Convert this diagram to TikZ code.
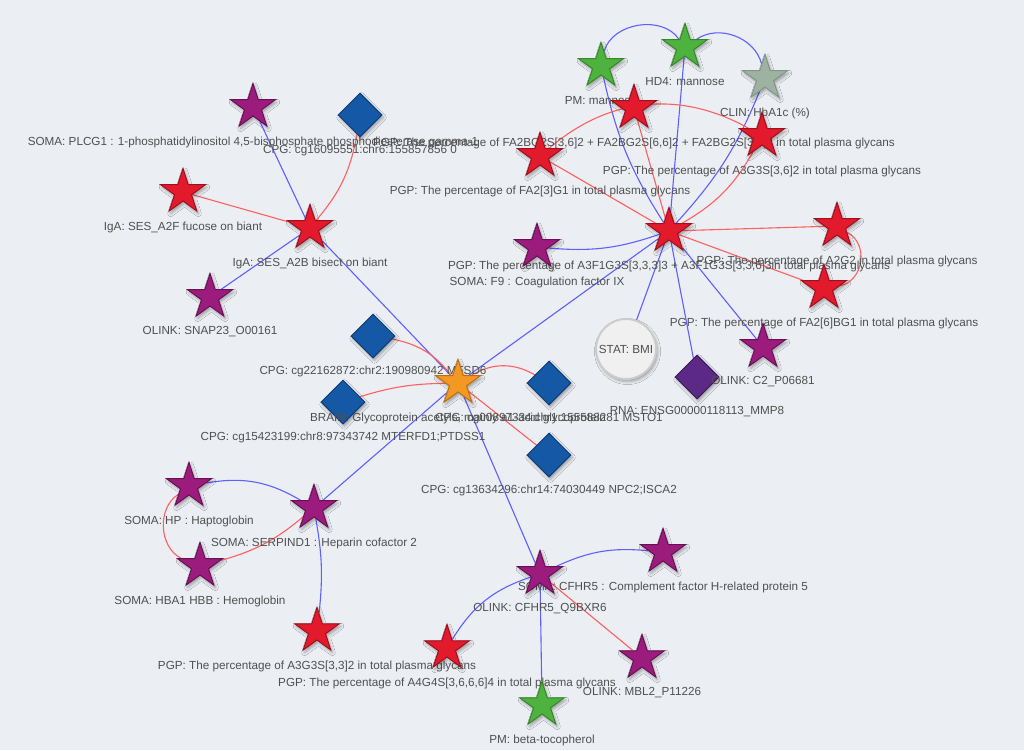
\documentclass[tikz,border=0pt]{standalone}
\usepackage{fontspec}
\setmainfont{Liberation Sans}
\usetikzlibrary{shapes.geometric,shadows.blur,backgrounds}

\definecolor{bgcol}{RGB}{235,238,243}
\definecolor{txtgray}{RGB}{80,80,80}
\definecolor{edgeblue}{RGB}{95,95,255}
\definecolor{edgered}{RGB}{255,95,95}
\definecolor{pgpred}{RGB}{227,26,43}
\definecolor{pgpredline}{RGB}{160,15,30}
\definecolor{somapurple}{RGB}{156,28,126}
\definecolor{somapurpleline}{RGB}{105,16,85}
\definecolor{pmgreen}{RGB}{78,178,62}
\definecolor{pmgreenline}{RGB}{55,135,42}
\definecolor{clingray}{RGB}{157,178,161}
\definecolor{clingrayline}{RGB}{130,150,135}
\definecolor{brainorange}{RGB}{243,152,34}
\definecolor{brainorangeline}{RGB}{190,110,15}
\definecolor{cpgblue}{RGB}{21,88,165}
\definecolor{cpgblueline}{RGB}{14,62,120}
\definecolor{rnapurple}{RGB}{92,42,134}
\definecolor{rnapurpleline}{RGB}{60,25,92}

\tikzset{
  shadowed/.style = {blur shadow={shadow xshift=1.5pt, shadow yshift=-2.5pt, shadow blur radius=3pt, shadow opacity=35}},
  starnode/.style = {star, star points=5, star point ratio=2.618, minimum size=47pt, inner sep=0pt, line width=1pt, shadowed},
  pgpstar/.style = {starnode, fill=pgpred, draw=pgpredline},
  somastar/.style = {starnode, fill=somapurple, draw=somapurpleline},
  pmstar/.style = {starnode, fill=pmgreen, draw=pmgreenline},
  clinstar/.style = {starnode, fill=clingray, draw=clingrayline},
  brainstar/.style = {starnode, fill=brainorange, draw=brainorangeline},
  cpgdia/.style = {diamond, minimum width=44pt, minimum height=44pt, inner sep=0pt, line width=1pt, fill=cpgblue, draw=cpgblueline, shadowed},
  rnadia/.style = {cpgdia, fill=rnapurple, draw=rnapurpleline},
  statcirc/.style = {circle, minimum size=60pt, inner sep=0pt, fill=black!6, draw=black!20, line width=2pt, shadowed, text=txtgray, font=\fontsize{11.7}{14}\selectfont},
  lbl/.style = {anchor=base, yshift=-35pt, inner sep=0pt, text=txtgray, font=\fontsize{11.7}{14}\selectfont},
  bl/.style = {draw=edgeblue, line width=1.1pt},
  rd/.style = {draw=edgered, line width=1.1pt}
}

\begin{document}
\begin{tikzpicture}[x=1pt, y=-1pt]
  \useasboundingbox (0,0) rectangle (1024,750);

  % top right cluster
  \node[pmstar, label={[lbl]center:{PM: mannose}}] (pmman) at (601,66) {};
  \node[pmstar, label={[lbl]center:{HD4: mannose}}] (hdman) at (685,47) {};
  \node[clinstar, label={[lbl]center:{CLIN: HbA1c (\%)}}] (hba) at (765,78) {};
  \node[pgpstar, label={[lbl]center:{PGP: The percentage of FA2BG2S[3,6]2 + FA2BG2S[6,6]2 + FA2BG2S[3,3]2 in total plasma glycans}}] (fa2bg2s) at (634,108) {};
  \node[pgpstar, label={[lbl]center:{PGP: The percentage of A3G3S[3,6]2 in total plasma glycans}}] (a3g3s36) at (762,136) {};
  \node[pgpstar, label={[lbl]center:{PGP: The percentage of FA2[3]G1 in total plasma glycans}}] (fa23g1) at (540,156) {};
  \node[pgpstar, label={[lbl]center:{PGP: The percentage of A3F1G3S[3,3,3]3 + A3F1G3S[3,3,6]3in total plasma glycans}}] (a3f1) at (669,231) {};
  \node[somastar, label={[lbl]center:{SOMA: F9 : Coagulation factor IX}}] (f9) at (537,247) {};
  \node[pgpstar, label={[lbl]center:{PGP: The percentage of A2G2 in total plasma glycans}}] (a2g2) at (837,226) {};
  \node[pgpstar, label={[lbl]center:{PGP: The percentage of FA2[6]BG1 in total plasma glycans}}] (fa26bg1) at (824,288) {};
  \node[statcirc] (bmi) at (626,349) {STAT: BMI};
  \node[rnadia, label={[lbl]center:{RNA: ENSG00000118113\_MMP8}}] (mmp8) at (697,377) {};
  \node[somastar, label={[lbl]center:{OLINK: C2\_P06681}}] (c2) at (763,347) {};

  % top left cluster
  \node[somastar, label={[lbl]center:{SOMA: PLCG1 : 1-phosphatidylinositol 4,5-bisphosphate phosphodiesterase gamma-1}}] (plcg1) at (253,107) {};
  \node[cpgdia, label={[lbl]center:{CPG: cg16095551:chr6:155857856 0}}] (cg1609) at (360,115) {};
  \node[pgpstar, label={[lbl]center:{IgA: SES\_A2F fucose on biant}}] (a2f) at (183,192) {};
  \node[pgpstar, label={[lbl]center:{IgA: SES\_A2B bisect on biant}}] (a2b) at (310,228) {};
  \node[somastar, label={[lbl]center:{OLINK: SNAP23\_O00161}}] (snap23) at (210,297) {};

  % middle cluster
  \node[cpgdia, label={[lbl]center:{CPG: cg22162872:chr2:190980942 MFSD6}}] (cg2216) at (373,336) {};
  \node[cpgdia, label={[lbl]center:{CPG: cg00897334:chr1:155588281 MSTO1}}] (msto1) at (549,383) {};
  \node[cpgdia, label={[lbl]center:{CPG: cg15423199:chr8:97343742 MTERFD1;PTDSS1}}] (cg1542) at (343,402) {};
  \node[cpgdia, label={[lbl]center:{CPG: cg13634296:chr14:74030449 NPC2;ISCA2}}] (cg1363) at (549,455) {};
  \node[brainstar, label={[lbl]center:{BRAIN: Glycoprotein acetyls, mainly a1-acid glycoprotein}}] (glyca) at (458,383) {};

  % bottom left cluster
  \node[somastar, label={[lbl]center:{SOMA: HP : Haptoglobin}}] (hp) at (189,486) {};
  \node[somastar, label={[lbl]center:{SOMA: SERPIND1 : Heparin cofactor 2}}] (serpind1) at (314,508) {};
  \node[somastar, label={[lbl]center:{SOMA: HBA1 HBB : Hemoglobin}}] (hba1) at (200,566) {};
  \node[pgpstar, label={[lbl]center:{PGP: The percentage of A3G3S[3,3]2 in total plasma glycans}}] (a3g3s33) at (317,631) {};

  % bottom cluster
  \node[somastar, label={[lbl]center:{SOMA: CFHR5 : Complement factor H-related protein 5}}] (socfhr5) at (663,552) {};
  \node[somastar, label={[lbl]center:{OLINK: CFHR5\_Q9BXR6}}] (olcfhr5) at (540,574) {};
  \node[pgpstar, label={[lbl]center:{PGP: The percentage of A4G4S[3,6,6,6]4 in total plasma glycans}}] (a4g4s) at (447,648) {};
  \node[somastar, label={[lbl]center:{OLINK: MBL2\_P11226}}] (mbl2) at (642,658) {};
  \node[pmstar, label={[lbl]center:{PM: beta-tocopherol}}] (btoc) at (542,705) {};

  \begin{scope}[on background layer]
    \fill[bgcol] (0,0) rectangle (1024,750);

    % edges
    \draw[bl] (plcg1) -- (a2b);
    \draw[rd] (cg1609) to[bend left=15] (a2b);
    \draw[rd] (a2f) -- (a2b);
    \draw[bl] (snap23) -- (a2b);
    \draw[bl] (a2b) -- (glyca);

    \draw[rd] (cg2216) to[bend left=20] (glyca);
    \draw[rd] (cg1542) to[bend left=8] (glyca);
    \draw[rd] (msto1) to[bend right=30] (glyca);
    \draw[rd] (cg1363) -- (glyca);
    \draw[bl] (glyca) -- (a3f1);
    \draw[bl] (glyca) -- (serpind1);
    \draw[bl] (glyca) -- (olcfhr5);

    \draw[bl] (pmman) to[bend right=10] (a3f1);
    \draw[bl] (hdman) -- (a3f1);
    \draw[bl] (hba) to[bend left=10] (a3f1);
    \draw[bl] (pmman) to[bend left=65] (hdman);
    \draw[bl] (hdman) to[bend left=55] (hba);
    \draw[rd] (fa23g1) to[bend left=35] (a3g3s36);
    \draw[rd] (fa2bg2s) -- (a3f1);
    \draw[rd] (fa23g1) -- (a3f1);
    \draw[rd] (a3f1) to[bend right=15] (a3g3s36);
    \draw[bl] (a3f1) to[bend left=12] (f9);
    \draw[rd] (a3f1) -- (a2g2);
    \draw[rd] (a2g2) to[bend left=70, looseness=1.15] (fa26bg1);
    \draw[rd] (a3f1) -- (fa26bg1);
    \draw[bl] (a3f1) -- (bmi);
    \draw[bl] (a3f1) -- (mmp8);
    \draw[bl] (a3f1) -- (c2);

    \draw[bl] (hp) to[bend left=20] (serpind1);
    \draw[rd] (hp) to[bend right=60] (hba1);
    \draw[rd] (hba1) to[bend right=12] (serpind1);
    \draw[bl] (serpind1) to[bend left=8] (a3g3s33);

    \draw[bl] (olcfhr5) to[bend left=15] (socfhr5);
    \draw[bl] (olcfhr5) to[bend right=20] (a4g4s);
    \draw[bl] (olcfhr5) -- (btoc);
    \draw[rd] (olcfhr5) -- (mbl2);
  \end{scope}
\end{tikzpicture}
\end{document}
